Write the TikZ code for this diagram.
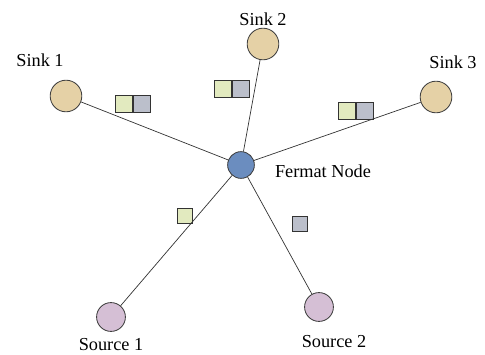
\documentclass[tikz,border=0pt]{standalone}
\usepackage{fontspec}
\setmainfont{Liberation Serif}
\usetikzlibrary{positioning}

\definecolor{sinkfill}{HTML}{E5D1A6}
\definecolor{fermatfill}{HTML}{6B8DBF}
\definecolor{srcfill}{HTML}{D5BFD5}
\definecolor{pkgreen}{HTML}{E2EABF}
\definecolor{pkgray}{HTML}{BBBFCB}

\tikzset{
    sink/.style={draw=black!75, line width=0.6pt, circle, fill=sinkfill, minimum size=22.5pt, inner sep=0pt},
    fermat/.style={draw=black!75, line width=0.6pt, circle, fill=fermatfill, minimum size=19pt, inner sep=0pt},
    src/.style={draw=black!75, line width=0.6pt, circle, fill=srcfill, minimum size=20.5pt, inner sep=0pt},
    pkt/.style={draw=black!80, line width=0.9pt, minimum size=12pt, inner sep=0pt},
    lbl/.style={font=\fontsize{13}{15}\selectfont, inner sep=0pt},
    link/.style={draw=black!80, line width=0.5pt}
}

\begin{document}
\begin{tikzpicture}[x=0.025cm, y=-0.025cm]
            \useasboundingbox (0, 0) rectangle (485, 354);

            \node[sink] (sink1) at (66, 96) {};
            \node[sink] (sink2) at (263, 44) {};
            \node[sink] (sink3) at (436, 97) {};
            \node[fermat] (fermat) at (241, 165) {};
            \node[src] (src1) at (111, 317) {};
            \node[src] (src2) at (319, 307) {};

            %labels
            \node[lbl] (t1) at (40, 60) {Sink 1};
            \node[lbl] (t2) at (263, 19) {Sink 2};
            \node[lbl] (t3) at (453, 62) {Sink 3};
            \node[lbl] (tf) at (323, 171) {Fermat Node};
            \node[lbl] (ts1) at (111, 345) {Source 1};
            \node[lbl] (ts2) at (334, 342) {Source 2};

            %packets on the links
            \node[pkt, fill=pkgreen] (p1a) at (124, 104) {};
            \node[pkt, fill=pkgray, right=0pt of p1a] (p1b) {};
            \node[pkt, fill=pkgreen] (p2a) at (223, 89) {};
            \node[pkt, fill=pkgray, right=0pt of p2a] (p2b) {};
            \node[pkt, fill=pkgreen] (p3a) at (347, 111) {};
            \node[pkt, fill=pkgray, right=0pt of p3a] (p3b) {};
            \node[pkt, fill=pkgreen, minimum size=10.5pt] (p4) at (185, 216) {};
            \node[pkt, fill=pkgray, minimum size=11pt] (p5) at (300, 224) {};

            \draw[link] (sink1) -- (fermat);
            \draw[link] (sink2) -- (fermat);
            \draw[link] (sink3) -- (fermat);
            \draw[link] (src1) -- (fermat);
            \draw[link] (src2) -- (fermat);

        \end{tikzpicture}
\end{document}
